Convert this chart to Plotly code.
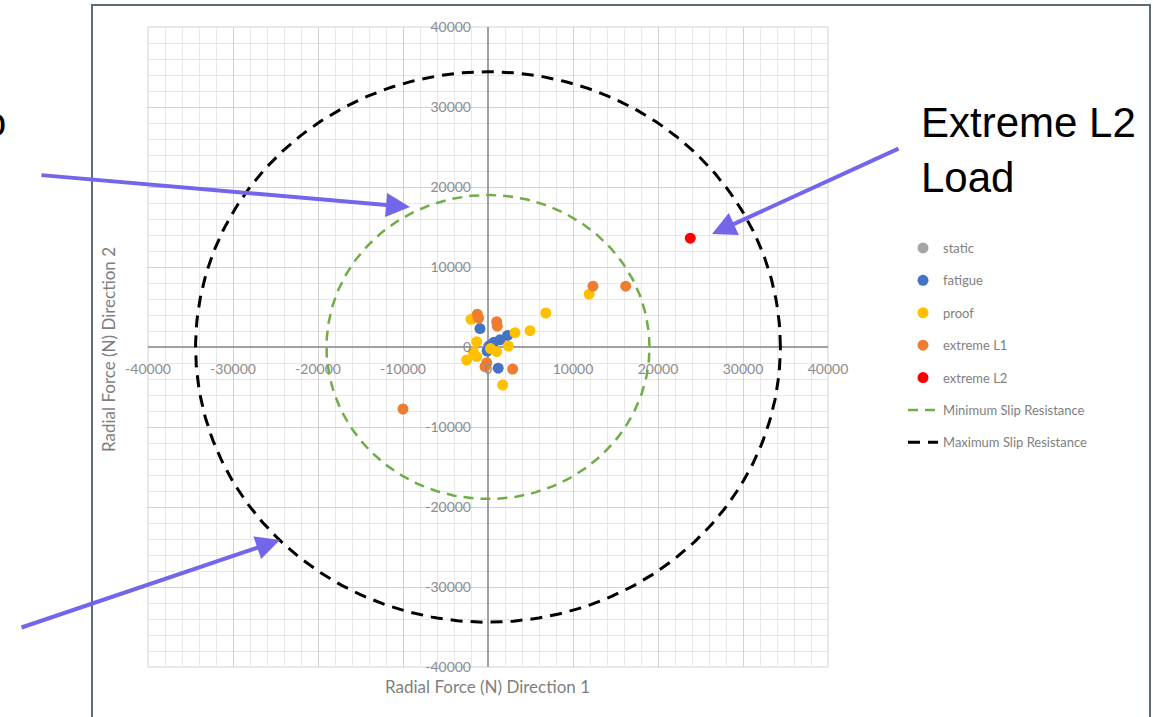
import numpy as np
import plotly.graph_objects as go

# ---------------- data ----------------
static_x = [0, 500]
static_y = [0, 300]

fatigue_x = [-940, 2300, 1400, 700, 200, -100, 1200]
fatigue_y = [2300, 1450, 900, 600, 200, -500, -2650]

proof_x = [6800, 11900, 4940, 3180, -2000, -1330, 2390, 1020, -1730, -2510, -1330, 1730, 300]
proof_y = [4250, 6600, 2040, 1790, 3460, 660, 125, -580, -580, -1625, -1200, -4750, -200]

extreme_l1_x = [12350, 16200, -10000, -1260, -1100, 1020, 1090, -350, -150, 2900]
extreme_l1_y = [7600, 7600, -7750, 4100, 3600, 3160, 2600, -2460, -1960, -2750]

extreme_l2_x = [23800]
extreme_l2_y = [13600]

min_slip_radius = 19000
max_slip_radius = 34400

tick_vals = [-40000, -30000, -20000, -10000, 0, 10000, 20000, 30000, 40000]
tick_text = ["-40000", "-30000", "-20000", "-10000", "0", "10000", "20000", "30000", "40000"]

series_names = ["static", "fatigue", "proof", "extreme L1", "extreme L2"]
series_colors = ["#A5A5A5", "#4472C4", "#FFC000", "#ED7D31", "#FF0000"]

# ---------------- layout helpers ----------------
W, H = 1153, 717
L, R, T, B = 148, 828, 27, 667   # plot area in pixels


def px(xp):
    return (xp - L) / (R - L)


def py(yp):
    return (B - yp) / (B - T)


fig = go.Figure()

series = [
    (static_x, static_y),
    (fatigue_x, fatigue_y),
    (proof_x, proof_y),
    (extreme_l1_x, extreme_l1_y),
    (extreme_l2_x, extreme_l2_y),
]
for (xs, ys), name, col in zip(series, series_names, series_colors):
    fig.add_trace(go.Scatter(
        x=xs, y=ys, mode="markers", name=name, legendgroup=name,
        marker=dict(size=11, color=col, line=dict(width=0)),
    ))

theta = np.linspace(0, 2 * np.pi, 361)
fig.add_trace(go.Scatter(
    x=min_slip_radius * np.cos(theta), y=min_slip_radius * np.sin(theta),
    mode="lines", name="Minimum Slip Resistance", legendgroup="min",
    line=dict(color="#70AD47", width=2.5, dash="10px,7px"),
))
fig.add_trace(go.Scatter(
    x=max_slip_radius * np.cos(theta), y=max_slip_radius * np.sin(theta),
    mode="lines", name="Maximum Slip Resistance", legendgroup="max",
    line=dict(color="#000000", width=3, dash="12px,8px"),
))

tickfont = dict(family="Liberation Sans Narrow, Lato, sans-serif", size=14, color="#8C8C8C")
common = dict(
    range=[-40000, 40000], tickvals=tick_vals, ticktext=tick_text,
    anchor="free", position=0.5, showline=False,
    zeroline=True, zerolinecolor="#A0A0A0", zerolinewidth=1.5,
    showgrid=True, gridcolor="#D2D2D2", gridwidth=1,
    minor=dict(dtick=2000, showgrid=True, gridcolor="#E8E8E8", gridwidth=1),
    ticks="", tickfont=tickfont, fixedrange=True,
)
fig.update_xaxes(ticklabelstandoff=12, **common)
fig.update_yaxes(ticklabelstandoff=17, **common)

shapes = [
    # outer chart frame
    dict(type="rect", xref="paper", yref="paper",
         x0=px(92), x1=px(1150), y0=py(725), y1=py(5),
         line=dict(color="#5F6B77", width=2), fillcolor="rgba(0,0,0,0)", layer="below"),
    # plot area border
    dict(type="rect", xref="paper", yref="paper", x0=0, x1=1, y0=0, y1=1,
         line=dict(color="#D2D2D2", width=1), layer="below"),
]

arrow_col = "#7366EB"
title_font = dict(family="Liberation Sans Narrow, Lato, sans-serif", size=17, color="#7F7F7F")
annotations = [
    # axis titles
    dict(text="Radial Force (N) Direction 1", xref="paper", yref="paper",
         x=px(487), y=py(686), xanchor="center", yanchor="middle", showarrow=False,
         font=title_font),
    dict(text="Radial Force (N) Direction 2", xref="paper", yref="paper",
         x=px(108), y=py(350), xanchor="center", yanchor="middle", showarrow=False,
         textangle=-90, font=title_font),
    # slide overlay text
    dict(text="Extreme L2<br>Load", xref="paper", yref="paper",
         x=px(919), y=py(150), xanchor="left", yanchor="middle", align="left",
         showarrow=False,
         font=dict(family="Liberation Sans, Arial, sans-serif", size=42, color="#000000")),
    dict(text="o", xref="paper", yref="paper",
         x=px(8), y=py(122), xanchor="right", yanchor="middle", showarrow=False,
         font=dict(family="Liberation Sans, Arial, sans-serif", size=40, color="#000000")),
    # arrows
    dict(text="", xref="paper", yref="paper", x=px(410), y=py(207),
         ax=40 - 410, ay=175 - 207, showarrow=True, arrowhead=2, arrowsize=1.2,
         arrowwidth=4, arrowcolor=arrow_col),
    dict(text="", xref="paper", yref="paper", x=px(280), y=py(540),
         ax=20 - 280, ay=628 - 540, showarrow=True, arrowhead=2, arrowsize=1.2,
         arrowwidth=4, arrowcolor=arrow_col),
    dict(text="", xref="paper", yref="paper", x=px(712), y=py(234),
         ax=900 - 712, ay=148 - 234, showarrow=True, arrowhead=2, arrowsize=1.2,
         arrowwidth=4, arrowcolor=arrow_col),
]

fig.update_layout(
    width=W, height=H,
    margin=dict(l=L, r=W - R, t=T, b=H - B, pad=0),
    paper_bgcolor="white", plot_bgcolor="white",
    showlegend=True,
    legend=dict(
        x=px(903), y=py(233), xanchor="left", yanchor="top",
        traceorder="grouped", tracegroupgap=12.5,
        font=dict(family="Liberation Sans Narrow, Lato, sans-serif", size=13, color="#7F7F7F"),
        bgcolor="rgba(0,0,0,0)",
    ),
    shapes=shapes,
    annotations=annotations,
)

fig.write_html("out.html")
